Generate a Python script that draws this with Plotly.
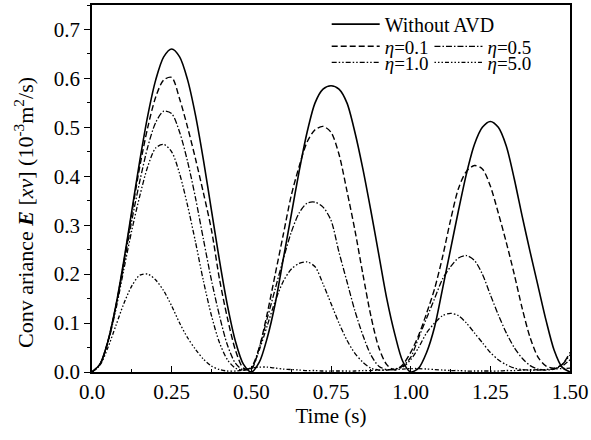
import plotly.graph_objects as go

time_s = [0.0, 0.025, 0.05, 0.075, 0.1, 0.125, 0.15, 0.175, 0.2, 0.225,
          0.25, 0.275, 0.3, 0.325, 0.35, 0.375, 0.4, 0.425, 0.45, 0.475,
          0.5, 0.525, 0.55, 0.575, 0.6, 0.625, 0.65, 0.675, 0.7, 0.725,
          0.75, 0.775, 0.8, 0.825, 0.85, 0.875, 0.9, 0.925, 0.95, 0.975,
          1.0, 1.025, 1.05, 1.075, 1.1, 1.125, 1.15, 1.175, 1.2, 1.225,
          1.25, 1.275, 1.3, 1.325, 1.35, 1.375, 1.4, 1.425, 1.45, 1.475, 1.5]

without_avd = [0.0, 0.016, 0.063, 0.136, 0.228, 0.330, 0.432, 0.524, 0.597, 0.644,
               0.660, 0.644, 0.597, 0.524, 0.432, 0.330, 0.228, 0.136, 0.063, 0.016,
               0.0, 0.020, 0.070, 0.140, 0.230, 0.320, 0.410, 0.490, 0.550, 0.578,
               0.585, 0.578, 0.550, 0.490, 0.415, 0.330, 0.240, 0.150, 0.078, 0.022,
               0.0, 0.008, 0.040, 0.092, 0.170, 0.250, 0.330, 0.405, 0.465, 0.500,
               0.512, 0.500, 0.462, 0.395, 0.318, 0.245, 0.175, 0.105, 0.045, 0.010, 0.0]

eta_0_1 = [0.0, 0.016, 0.063, 0.135, 0.225, 0.325, 0.420, 0.500, 0.562, 0.597,
           0.602, 0.558, 0.500, 0.435, 0.365, 0.290, 0.190, 0.110, 0.045, 0.008,
           0.006, 0.050, 0.120, 0.200, 0.280, 0.360, 0.420, 0.470, 0.495, 0.502,
           0.490, 0.445, 0.370, 0.290, 0.200, 0.115, 0.050, 0.015, 0.004, 0.015,
           0.040, 0.075, 0.120, 0.170, 0.235, 0.310, 0.375, 0.410, 0.422, 0.415,
           0.380, 0.325, 0.265, 0.200, 0.130, 0.070, 0.030, 0.012, 0.008, 0.015, 0.040]

eta_0_5 = [0.0, 0.016, 0.062, 0.133, 0.220, 0.310, 0.390, 0.460, 0.510, 0.533,
           0.528, 0.490, 0.430, 0.355, 0.270, 0.187, 0.115, 0.055, 0.018, 0.004,
           0.010, 0.050, 0.110, 0.170, 0.230, 0.285, 0.325, 0.345, 0.347, 0.337,
           0.310, 0.245, 0.185, 0.125, 0.075, 0.035, 0.012, 0.005, 0.006, 0.012,
           0.030, 0.070, 0.110, 0.150, 0.190, 0.215, 0.233, 0.238, 0.228, 0.200,
           0.158, 0.117, 0.080, 0.050, 0.028, 0.013, 0.006, 0.004, 0.006, 0.015, 0.035]

eta_1_0 = [0.0, 0.015, 0.060, 0.128, 0.210, 0.290, 0.360, 0.420, 0.458, 0.465,
           0.450, 0.405, 0.340, 0.265, 0.185, 0.115, 0.060, 0.025, 0.008, 0.004,
           0.008, 0.045, 0.095, 0.145, 0.185, 0.210, 0.222, 0.225, 0.215, 0.180,
           0.140, 0.100, 0.065, 0.038, 0.020, 0.008, 0.004, 0.004, 0.006, 0.010,
           0.025, 0.050, 0.080, 0.100, 0.115, 0.120, 0.115, 0.100, 0.080, 0.060,
           0.040, 0.025, 0.015, 0.008, 0.005, 0.004, 0.004, 0.005, 0.007, 0.012, 0.025]

eta_5_0 = [0.0, 0.014, 0.050, 0.095, 0.140, 0.176, 0.198, 0.200, 0.188, 0.166,
           0.135, 0.100, 0.070, 0.046, 0.026, 0.012, 0.005, 0.002, 0.002, 0.004,
           0.008, 0.010, 0.010, 0.008, 0.006, 0.005, 0.004, 0.003, 0.003, 0.002,
           0.002, 0.002, 0.002, 0.002, 0.003, 0.003, 0.004, 0.004, 0.005, 0.006,
           0.007, 0.007, 0.006, 0.005, 0.004, 0.003, 0.003, 0.002, 0.002, 0.002,
           0.002, 0.002, 0.003, 0.003, 0.004, 0.004, 0.005, 0.005, 0.006, 0.007, 0.008]

series_names = ["Without AVD", "<i>η</i>=0.1", "<i>η</i>=0.5", "<i>η</i>=1.0", "<i>η</i>=5.0"]
series_values = [without_avd, eta_0_1, eta_0_5, eta_1_0, eta_5_0]
series_dash = ["solid", "6px,3px", "6px,2px,1.5px,2px",
               "5px,2px,1.5px,2px,1.5px,2px", "1.5px,2px,1.5px,2px,1.5px,2px,4px,2px"]
series_width = [1.6, 1.4, 1.3, 1.3, 1.3]
legend_ids = ["legend", "legend2", "legend3", "legend4", "legend5"]

y_title = "Conv ariance <b><i>E</i></b> [<i>xv</i>] (10<sup>-3</sup>m<sup>2</sup>/s)"

FONT = "Liberation Serif"
FS = 21

fig = go.Figure()
for name, vals, dash, w, lg in zip(series_names, series_values, series_dash, series_width, legend_ids):
    fig.add_trace(go.Scatter(
        x=time_s, y=vals, name=name, mode="lines", showlegend=True,
        line=dict(color="black", width=w, dash=dash, shape="spline", smoothing=0.8),
        legend=lg,
    ))

legend_common = dict(bgcolor="rgba(0,0,0,0)", borderwidth=0, visible=True,
                     itemwidth=48,
                     font=dict(family=FONT, size=19, color="black"),
                     xanchor="left", yanchor="middle")

fig.update_layout(
    width=591, height=440,
    showlegend=True,
    margin=dict(l=92, r=21, t=5, b=68, autoexpand=False),
    paper_bgcolor="white", plot_bgcolor="white",
    font=dict(family=FONT, size=FS, color="black"),
    legend=dict(x=0.491, y=0.948, font=dict(family=FONT, size=20, color="black"),
                **{k: v for k, v in legend_common.items() if k != "font"}),
    legend2=dict(x=0.491, y=0.887, **legend_common),
    legend3=dict(x=0.706, y=0.887, **legend_common),
    legend4=dict(x=0.491, y=0.843, **legend_common),
    legend5=dict(x=0.706, y=0.843, **legend_common),
    xaxis=dict(
        range=[0, 1.5], tickvals=[0, 0.25, 0.5, 0.75, 1.0, 1.25, 1.5],
        ticktext=["0.0", "0.25", "0.50", "0.75", "1.00", "1.25", "1.50"],
        ticks="inside", ticklen=6, tickwidth=1.2, tickcolor="black",
        minor=dict(dtick=0.125, ticks="inside", ticklen=3, tickcolor="black"),
        showline=True, linecolor="black", linewidth=1.5, mirror=True,
        showgrid=False, zeroline=False, automargin=False,
        title=dict(text="Time (s)", standoff=4, font=dict(family=FONT, size=FS)),
        tickfont=dict(family=FONT, size=FS),
    ),
    yaxis=dict(
        range=[0, 0.75], tickvals=[0, 0.1, 0.2, 0.3, 0.4, 0.5, 0.6, 0.7],
        ticktext=["0.0", "0.1", "0.2", "0.3", "0.4", "0.5", "0.6", "0.7"],
        ticks="outside", ticklen=6, tickwidth=1.2, tickcolor="black",
        minor=dict(dtick=0.05, ticks="outside", ticklen=3, tickcolor="black"),
        showline=True, linecolor="black", linewidth=1.5, mirror=True,
        showgrid=False, zeroline=False, automargin=False,
        tickfont=dict(family=FONT, size=FS),
    ),
    annotations=[dict(
        text=y_title, xref="paper", yref="paper", x=-0.141, y=0.435,
        xanchor="center", yanchor="middle", textangle=-90, showarrow=False,
        font=dict(family=FONT, size=22, color="black"),
    )],
)

fig.write_html("out.html", config={"displayModeBar": False},
               post_script="document.body.style.margin='0';")
